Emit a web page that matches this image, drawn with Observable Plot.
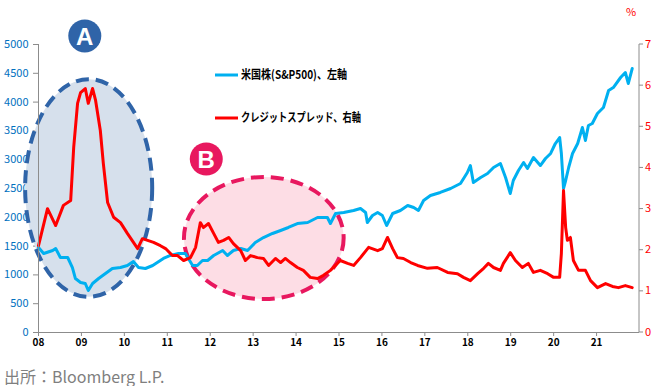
<!DOCTYPE html>
<html><head><meta charset="utf-8">
<script src="https://cdn.jsdelivr.net/npm/d3@7"></script>
<script src="https://cdn.jsdelivr.net/npm/@observablehq/plot@0.6"></script>
<style>
body{margin:0;background:#fff;}
#caption{font-family:'Noto Sans CJK JP','Noto Sans',sans-serif;font-size:16px;color:#7f7f7f;margin:4px 0 0 4px;line-height:20px;}
</style>
</head><body><div id="chart"></div><div id="caption">出所：Bloomberg L.P.</div>
<script>
// ---- data ----
const spxYears = [2008.00,2008.12,2008.33,2008.40,2008.51,2008.68,2008.79,2008.86,2008.98,2009.09,
 2009.16,2009.26,2009.40,2009.56,2009.72,2009.91,2010.07,2010.21,2010.33,2010.49,
 2010.66,2010.91,2011.07,2011.26,2011.42,2011.59,2011.70,2011.82,2011.94,2012.08,
 2012.29,2012.40,2012.54,2012.71,2012.87,2013.05,2013.24,2013.45,2013.64,2013.82,
 2014.03,2014.27,2014.50,2014.73,2014.80,2014.92,2015.11,2015.34,2015.50,2015.62,
 2015.66,2015.78,2015.90,2016.01,2016.11,2016.25,2016.43,2016.60,2016.74,2016.85,
 2016.97,2017.13,2017.36,2017.60,2017.83,2017.99,2018.06,2018.13,2018.30,2018.46,
 2018.60,2018.76,2018.88,2018.99,2019.06,2019.18,2019.30,2019.39,2019.53,2019.69,
 2019.81,2019.93,2020.04,2020.14,2020.18,2020.23,2020.28,2020.35,2020.44,2020.56,
 2020.67,2020.74,2020.81,2020.90,2021.02,2021.16,2021.28,2021.39,2021.56,2021.67,
 2021.74,2021.83];
const spxValues = [1476,1372,1424,1458,1302,1302,1128,937,868,851,
 729,851,937,1024,1111,1128,1163,1233,1128,1111,
 1163,1285,1337,1372,1372,1163,1163,1250,1250,1337,
 1424,1337,1424,1458,1424,1563,1649,1719,1771,1823,
 1892,1910,1997,1997,1892,2066,2083,2118,2153,2083,
 1910,2031,2083,2031,1858,2066,2118,2205,2170,2118,
 2292,2378,2431,2500,2587,2778,2899,2604,2691,2760,
 2865,2934,2691,2413,2639,2812,2951,2847,3038,2899,
 3021,3108,3281,3385,3108,2500,2639,2865,3108,3281,
 3559,3333,3594,3628,3802,3906,4201,4253,4427,4514,
 4323,4583];
const spreadYears = [2008.00,2008.21,2008.40,2008.58,2008.75,2008.82,2008.91,2008.98,2009.09,2009.16,
 2009.26,2009.33,2009.44,2009.51,2009.61,2009.75,2009.91,2010.07,2010.31,2010.42,
 2010.68,2010.84,2010.96,2011.12,2011.24,2011.38,2011.54,2011.66,2011.77,2011.84,
 2011.96,2012.08,2012.19,2012.31,2012.43,2012.54,2012.71,2012.82,2012.94,2013.10,
 2013.24,2013.36,2013.52,2013.64,2013.75,2013.87,2014.03,2014.17,2014.33,2014.50,
 2014.64,2014.80,2015.03,2015.20,2015.34,2015.50,2015.69,2015.90,2016.01,2016.13,
 2016.25,2016.36,2016.50,2016.67,2016.83,2017.06,2017.29,2017.53,2017.76,2017.90,
 2018.06,2018.23,2018.37,2018.48,2018.60,2018.76,2018.83,2018.99,2019.11,2019.27,
 2019.41,2019.53,2019.69,2019.86,2020.00,2020.14,2020.18,2020.23,2020.28,2020.32,
 2020.39,2020.46,2020.58,2020.74,2020.86,2021.02,2021.21,2021.37,2021.51,2021.67,
 2021.83];
const spreadValues = [2.11,3.01,2.60,3.09,3.21,4.50,5.57,5.83,5.93,5.57,
 5.93,5.64,4.91,4.11,3.16,2.80,2.67,2.41,2.04,2.28,
 2.19,2.11,2.04,1.87,1.87,1.75,1.82,2.07,2.67,2.55,
 2.65,2.41,2.19,2.24,2.31,2.16,1.99,1.75,1.87,1.82,
 1.80,1.63,1.80,1.70,1.80,1.70,1.58,1.51,1.34,1.31,
 1.39,1.51,1.75,1.68,1.63,1.82,2.07,1.99,2.04,2.31,
 2.04,1.82,1.80,1.70,1.63,1.56,1.58,1.46,1.43,1.34,
 1.26,1.43,1.56,1.68,1.58,1.51,1.68,1.94,1.75,1.58,
 1.68,1.46,1.51,1.43,1.34,1.34,1.92,3.45,2.55,2.24,
 2.31,1.75,1.51,1.51,1.26,1.09,1.19,1.12,1.09,1.14,
 1.09];
const xTicks = [2008,2009,2010,2011,2012,2013,2014,2015,2016,2017,2018,2019,2020,2021];
const leftTicks = [0,500,1000,1500,2000,2500,3000,3500,4000,4500,5000];
const rightTicks = [0,1,2,3,4,5,6,7];
const seriesNames = ["米国株(S&P500)、左軸", "クレジットスプレッド、右軸"];
const leftMax = 5000, rightMax = 7;

// annotations (in data units)
const notes = [
  {label:"A", cx:2009.18, cy:2500, rx:1.48, ry:1890, bx:2009.09, by:5140, stroke:"#2F64A8", fill:"#D6E0EC"},
  {label:"B", cx:2013.26, cy:1632, rx:1.86, ry:1060, bx:2011.92, by:3003, stroke:"#E8185F", fill:"#FDDDE5"}
];

const spx = spxYears.map((t,i)=>({t, v: spxValues[i]}));
const spread = spreadYears.map((t,i)=>({t, v: spreadValues[i] * leftMax / rightMax}));
const font = "'Noto Sans CJK JP','Noto Sans',sans-serif";

function ellipses(I, s) {
  const g = d3.create("svg:g");
  for (const n of notes) {
    const cx = s.x(n.cx), cy = s.y(n.cy);
    const rx = s.x(n.cx + n.rx) - cx, ry = cy - s.y(n.cy + n.ry);
    g.append("ellipse").attr("cx",cx).attr("cy",cy).attr("rx",rx).attr("ry",ry)
      .attr("fill",n.fill).attr("stroke",n.stroke).attr("stroke-width",4)
      .attr("stroke-dasharray","13,7");
  }
  return g.node();
}
function badges(I, s) {
  const g = d3.create("svg:g");
  for (const n of notes) {
    const x = s.x(n.bx), y = s.y(n.by);
    g.append("circle").attr("cx",x).attr("cy",y).attr("r",16.5).attr("fill",n.stroke);
    g.append("text").attr("x",x).attr("y",y).attr("dy","0.36em").attr("text-anchor","middle")
      .attr("fill","#fff").attr("font-weight","bold").attr("font-size",24).attr("font-family","Liberation Sans, Arial, sans-serif").text(n.label);
  }
  return g.node();
}
function rightAxis(I, s, v, dims) {
  const g = d3.create("svg:g");
  const x = dims.width - dims.marginRight;
  g.append("line").attr("x1",x).attr("x2",x).attr("y1",s.y(0)).attr("y2",s.y(leftMax)).attr("stroke","#8c8c8c");
  for (const t of rightTicks) {
    const y = s.y(t * leftMax / rightMax);
    g.append("line").attr("x1",x).attr("x2",x+4).attr("y1",y).attr("y2",y).attr("stroke","#8c8c8c");
    g.append("text").attr("x",x+6).attr("y",y).attr("dy","0.32em").attr("fill","#FF0000").attr("text-anchor","start")
      .attr("font-size",11).attr("font-family",font).text(String(t));
  }
  g.append("text").attr("x",x-8).attr("y",s.y(leftMax)-32).attr("dy","0.32em").attr("fill","#FF0000")
    .attr("font-size",11).attr("font-family",font).attr("text-anchor","middle").text("%");
  return g.node();
}
function legend(I, s, v, dims) {
  const g = d3.create("svg:g");
  const items = [{c:"#00B0F0", y:75, w:106}, {c:"#FF0000", y:118, w:120}];
  items.forEach((it,i) => {
    g.append("line").attr("x1",215).attr("x2",238).attr("y1",it.y).attr("y2",it.y).attr("stroke",it.c).attr("stroke-width",3);
    g.append("text").attr("x",241).attr("y",it.y).attr("dy","0.36em").attr("font-size",12).attr("font-weight","bold")
      .attr("text-anchor","start")
      .attr("font-family",font).attr("fill","#000").attr("textLength",it.w).attr("lengthAdjust","spacingAndGlyphs").text(seriesNames[i]);
  });
  return g.node();
}

const chart = Plot.plot({
  width: 660, height: 362,
  marginLeft: 38, marginRight: 21, marginTop: 44, marginBottom: 30,
  style: {fontFamily: font, fontSize: "11px", background: "white", overflow: "visible"},
  x: {domain: [2008, 2022], ticks: xTicks, tickFormat: d => String(d % 100).padStart(2, "0"), tickSize: 4, tickPadding: 2, label: null},
  y: {domain: [0, leftMax], ticks: leftTicks, tickFormat: d => String(d), tickSize: 5, tickPadding: 5, label: null},
  marks: [
    ellipses,
    Plot.line(spx, {x: "t", y: "v", stroke: "#00B0F0", strokeWidth: 3}),
    Plot.line(spread, {x: "t", y: "v", stroke: "#FF0000", strokeWidth: 3}),
    Plot.ruleX([2008], {stroke: "#8c8c8c"}),
    Plot.ruleY([0], {stroke: "#8c8c8c"}),
    rightAxis,
    badges,
    legend
  ]
});
// axis styling
chart.querySelectorAll('[aria-label^="y-axis"] text').forEach(t => { t.setAttribute("fill", "#0070C0"); t.setAttribute("font-size", "11"); });
chart.querySelectorAll('[aria-label^="y-axis"] line, [aria-label^="y-axis"] path').forEach(t => t.setAttribute("stroke", "#8c8c8c"));
chart.querySelectorAll('[aria-label^="x-axis"] text').forEach(t => { t.setAttribute("fill", "#000"); t.setAttribute("font-size", "10"); t.setAttribute("font-weight", "bold"); });
chart.querySelectorAll('[aria-label^="x-axis"] line, [aria-label^="x-axis"] path').forEach(t => t.setAttribute("stroke", "#8c8c8c"));
document.getElementById("chart").appendChild(chart);
</script></body></html>
